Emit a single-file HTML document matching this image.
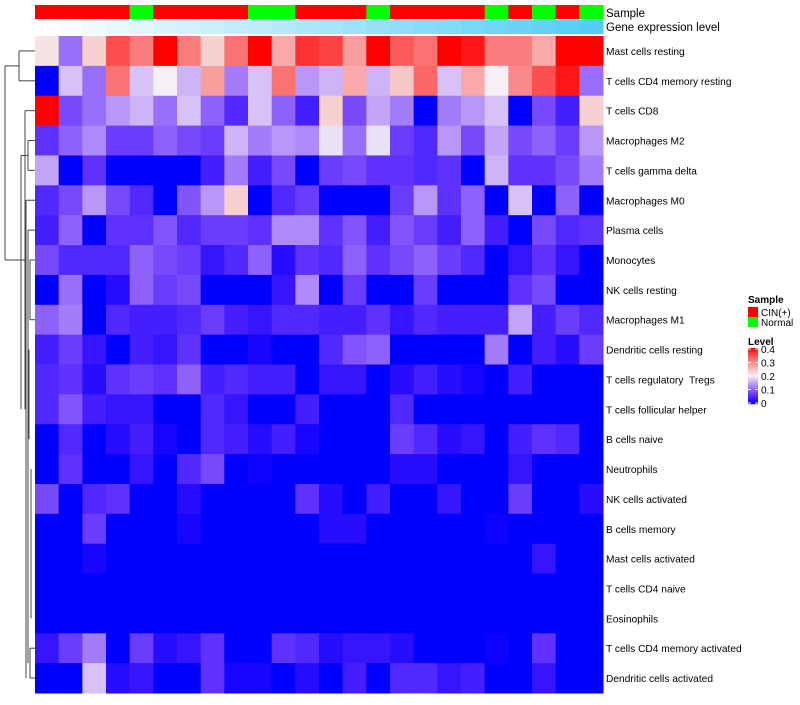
<!DOCTYPE html>
<html><head><meta charset="utf-8"><style>
body{margin:0;background:#fff;font-family:"Liberation Sans",sans-serif}
svg text{font-family:"Liberation Sans",sans-serif}
</style></head><body>
<svg id="c" width="800" height="700" xmlns="http://www.w3.org/2000/svg"></svg>
<script>
const rowLabels=["Mast cells resting","T cells CD4 memory resting","T cells CD8","Macrophages M2","T cells gamma delta","Macrophages M0","Plasma cells","Monocytes","NK cells resting","Macrophages M1","Dendritic cells resting","T cells regulatory \u00a0Tregs","T cells follicular helper","B cells naive","Neutrophils","NK cells activated","B cells memory","Mast cells activated","T cells CD4 naive","Eosinophils","T cells CD4 memory activated","Dendritic cells activated"];
const sampleGroups=["CIN","CIN","CIN","CIN","N","CIN","CIN","CIN","CIN","N","N","CIN","CIN","CIN","N","CIN","CIN","CIN","CIN","N","CIN","N","CIN","N"];
const geneLevel=[0,0.04,0.08,0.12,0.16,0.2,0.24,0.28,0.32,0.36,0.4,0.44,0.48,0.52,0.56,0.6,0.64,0.68,0.72,0.76,0.8,0.84,0.88,0.92];
const r01=[0.21,0.11,0.23,0.35,0.31,0.4,0.31,0.23,0.32,0.4,0.27,0.37,0.36,0.28,0.4,0.34,0.32,0.4,0.39,0.31,0.31,0.27,0.4,0.4];
const r02=[0,0.17,0.11,0.32,0.17,0.2,0.16,0.28,0.12,0.17,0.32,0.14,0.16,0.27,0.16,0.24,0.33,0.17,0.27,0.2,0.3,0.35,0.39,0.11];
const r03=[0.4,0.08,0.11,0.14,0.16,0.11,0.17,0.1,0.05,0.17,0.1,0.04,0.23,0.08,0.15,0.12,0,0.12,0.14,0.17,0,0.08,0.04,0.23];
const r04=[0.06,0.1,0.13,0.07,0.07,0.1,0.08,0.07,0.16,0.12,0.14,0.13,0.19,0.11,0.19,0.07,0.05,0.14,0.08,0.15,0.08,0.1,0.07,0.14];
const r05=[0.15,0,0.06,0,0,0,0,0.04,0.12,0.04,0.08,0,0.07,0.08,0.06,0.06,0.05,0.06,0,0.16,0.06,0.06,0.08,0.12];
const r06=[0.05,0.08,0.14,0.08,0.05,0,0.09,0.14,0.23,0,0.05,0.07,0,0,0,0.07,0.14,0.06,0.1,0,0.17,0,0.1,0];
const r07=[0.04,0.1,0,0.06,0.06,0.09,0.05,0.07,0.07,0.06,0.13,0.13,0.06,0.09,0.04,0.09,0.07,0.04,0.1,0.04,0,0.08,0.05,0.06];
const r08=[0.08,0.05,0.05,0.05,0.1,0.08,0.07,0.03,0.05,0.1,0.02,0.06,0.05,0.1,0.06,0.08,0.1,0.07,0.05,0,0.03,0.06,0.03,0];
const r09=[0,0.11,0,0.02,0.1,0.07,0.08,0,0,0,0.03,0.13,0,0.07,0,0,0.07,0,0,0,0.06,0.08,0,0];
const r10=[0.1,0.12,0,0.05,0.04,0.04,0.05,0.07,0.04,0.03,0.05,0.05,0.04,0.04,0.06,0.03,0.05,0.04,0.04,0.04,0.15,0.04,0.07,0.05];
const r11=[0.04,0.07,0.03,0,0.04,0.03,0.06,0,0,0.01,0,0,0.05,0.09,0.1,0,0,0,0,0.12,0,0.04,0.02,0.07];
const r12=[0.05,0.06,0.02,0.06,0.07,0.06,0.1,0.04,0.05,0.04,0.04,0,0.03,0.03,0,0.02,0.04,0.02,0.01,0,0.04,0,0,0];
const r13=[0.05,0.09,0.04,0.03,0.03,0,0,0.05,0.03,0,0,0.04,0,0,0,0.05,0,0,0,0,0,0,0,0];
const r14=[0,0.05,0,0.02,0.04,0.01,0,0.05,0.04,0.02,0.04,0.01,0,0,0,0.07,0.05,0.02,0.03,0,0.04,0.06,0.05,0];
const r15=[0,0.06,0,0,0.03,0,0.05,0.08,0,0.005,0,0,0,0,0,0.02,0.02,0,0,0,0.03,0,0,0];
const r16=[0.08,0,0.05,0.06,0,0,0.02,0,0,0,0,0.06,0.02,0,0.04,0,0,0.03,0,0,0.07,0,0,0.02];
const r17=[0,0,0.07,0,0,0,0.01,0,0,0,0,0,0.02,0.02,0,0,0,0,0,0.005,0,0,0,0];
const r18=[0,0,0.01,0,0,0,0,0,0,0,0,0,0,0,0,0,0,0,0,0,0,0.03,0,0];
const r19=[0,0,0,0,0,0,0,0,0,0,0,0,0,0,0,0,0,0,0,0,0,0,0,0];
const r20=[0,0,0,0,0,0,0,0,0,0,0,0,0,0,0,0,0,0,0,0,0,0,0,0];
const r21=[0.03,0.07,0.12,0,0.07,0.02,0.03,0.06,0,0,0.06,0.05,0.02,0.03,0.03,0.02,0,0,0,0.005,0,0.06,0,0];
const r22=[0,0,0.17,0.02,0.03,0,0,0.06,0.01,0.01,0,0.02,0,0.04,0,0.05,0.05,0.03,0.04,0,0,0.03,0,0];
const values=[r01,r02,r03,r04,r05,r06,r07,r08,r09,r10,r11,r12,r13,r14,r15,r16,r17,r18,r19,r20,r21,r22];
const legendTicks=["0.4","0.3","0.2","0.1","0"];

const NS="http://www.w3.org/2000/svg",svg=document.getElementById('c');
const X0=35,X1=603,Y0=36,Y1=693;
const nC=24,nR=rowLabels.length,cw=(X1-X0)/nC,rh=(Y1-Y0)/nR;
const xs=i=>X0+i*cw, ys=j=>Y0+j*rh;
function col(v){v=Math.max(0,Math.min(0.4,v));
 if(v<=0.2){const t=v/0.2;return `rgb(${Math.round(245*Math.pow(t,0.8))},${Math.round(240*Math.pow(t,1.3))},${Math.round(255-10*t)})`;}
 const t=(v-0.2)/0.2;const g=Math.round(238*Math.pow(1-t,0.8));return `rgb(${Math.round(245+10*t)},${g},${g})`;}
function mk(t,a,p){const e=document.createElementNS(NS,t);for(const k in a)e.setAttribute(k,a[k]);(p||svg).appendChild(e);return e;}
for(let j=0;j<nR;j++){for(let i=0;i<nC;i++){
 const r=mk('rect',{x:xs(i),y:ys(j),width:cw+0.5,height:rh+0.5,fill:col(values[j][i])});
 
 }
 const t=mk('text',{x:606,y:ys(j)+rh/2+4,'font-size':10.2,fill:'#000'});t.textContent=rowLabels[j];
 
 }
for(let i=0;i<nC;i++){
 const s=mk('rect',{x:xs(i),y:5,width:cw+0.5,height:14,fill:sampleGroups[i]==='CIN'?'#ff0000':'#00ff00'});
 
 
 const g=geneLevel[i];
 const a=mk('rect',{x:xs(i),y:20,width:cw+0.5,height:14,fill:`rgb(${Math.round(255-185*g)},${Math.round(255-55*g)},${Math.round(255-10*g)})`});
 
 }
let t1=mk('text',{x:606,y:17,'font-size':11.5});t1.textContent='Sample';
let t2=mk('text',{x:606,y:31,'font-size':11.5});t2.textContent='Gene expression level';
const dg=mk('g',{stroke:'#444','stroke-width':1,fill:'none'});
const yc=j=>ys(j)+rh/2;
const segs=[[19,yc(0),19,yc(1)],[19,yc(0),35,yc(0)],[19,yc(1),35,yc(1)],
[5,(yc(0)+yc(1))/2,19,(yc(0)+yc(1))/2],[5,(yc(0)+yc(1))/2,5,yc(7)],[5,yc(7),25,yc(7)],
[25,yc(2),25,yc(12)],[25,yc(2),35,yc(2)],[21,yc(3.5),21,yc(12)],[21,yc(3.5),28,yc(3.5)],[28,yc(3),28,yc(4)],[28,yc(3),35,yc(3)],[28,yc(4),35,yc(4)],
[26,yc(5),26,yc(21)],[26,yc(5),35,yc(5)],[28,yc(6),28,yc(20.5)],[28,yc(6),35,yc(6)],[30,yc(7),30,yc(9)],[30,yc(7),35,yc(7)],[30,yc(9),35,yc(9)],
[29,yc(10),29,yc(13)],[31,yc(14),31,yc(19)],[30,yc(20),30,yc(21)],[30,yc(20),35,yc(20)],[30,yc(21),35,yc(21)]];
segs.forEach(s=>mk('line',{x1:s[0],y1:s[1],x2:s[2],y2:s[3]},dg));
const lg=mk('g',{});
let lt=mk('text',{x:748,y:303,'font-size':10,'font-weight':'bold'},lg);lt.textContent='Sample';
[['#ff0000','CIN(+)'],['#00ff00','Normal']].forEach((d,k)=>{
 const r=mk('rect',{x:748,y:307+k*10,width:10,height:10,fill:d[0]},lg);
 
 
 const t=mk('text',{x:761,y:316+k*10,'font-size':10},lg);t.textContent=d[1];});
let lv=mk('text',{x:748,y:345,'font-size':10,'font-weight':'bold'},lg);lv.textContent='Level';
for(let k=0;k<56;k++){mk('rect',{x:748,y:348+k,width:10,height:1.2,fill:col(0.4*(1-k/55))},lg);}
legendTicks.forEach((s,k)=>{const y=349+k*13.5;mk('line',{x1:748,x2:751,y1:y,y2:y,stroke:'#fff'},lg);mk('line',{x1:755,x2:758,y1:y,y2:y,stroke:'#fff'},lg);
 const t=mk('text',{x:761,y:y+4,'font-size':10},lg);t.textContent=s;
 
 });
</script></body></html>
